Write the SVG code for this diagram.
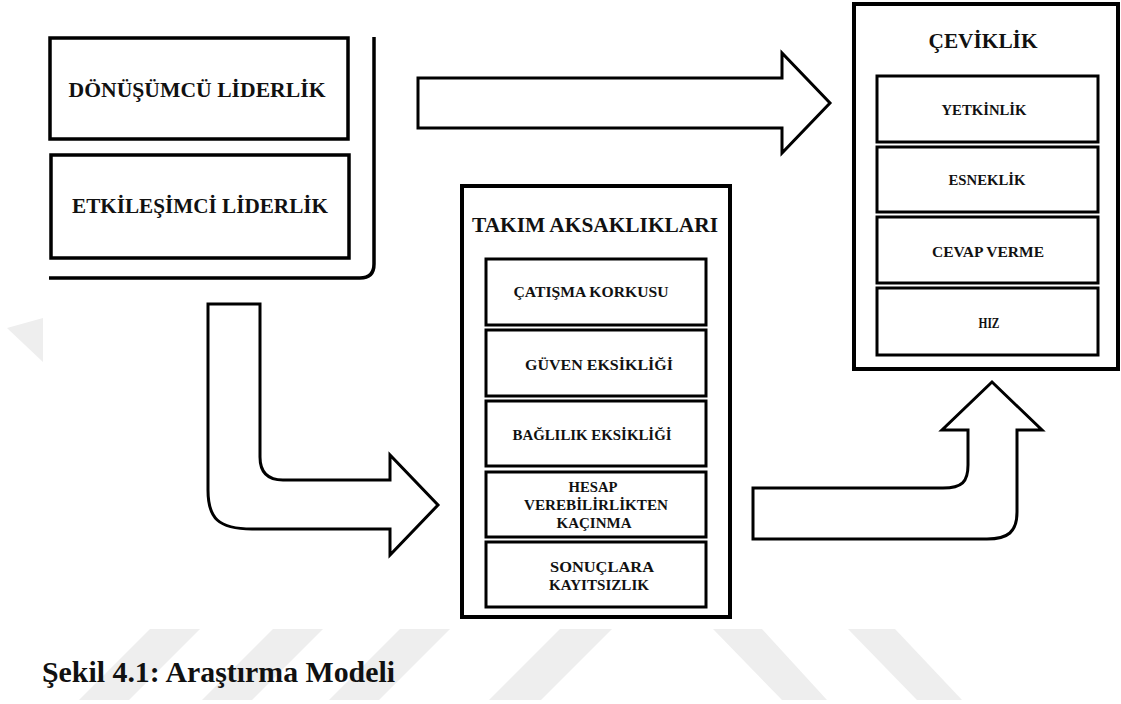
<svg xmlns="http://www.w3.org/2000/svg" width="1121" height="704" viewBox="0 0 1121 704">
<style>
.box{fill:#fff;stroke:#000;stroke-width:3.5}
.outer{fill:#fff;stroke:#000;stroke-width:4}
.inner{fill:#fff;stroke:#000;stroke-width:3}
.arrow{fill:#fff;stroke:#000;stroke-width:3;stroke-linejoin:miter}
.wm{fill:#eeeeee}
text{font-family:'Liberation Serif','Times New Roman',Times,'DejaVu Serif',serif;font-weight:bold;fill:#111;text-anchor:middle}
.t22{font-size:22px}
.t21{font-size:21px}
.t15{font-size:15px}
.cap{font-size:29px;text-anchor:start}
</style>
<rect width="1121" height="704" fill="#fff"/>
<g id="watermark">
<polygon class="wm" points="7,328 43,318 43,362"/>
<polygon class="wm" points="150,629 200,629 129,700 79,700"/>
<polygon class="wm" points="273,629 323,629 252,700 202,700"/>
<polygon class="wm" points="400,629 450,629 379,700 329,700"/>
<polygon class="wm" points="560,629 612,629 541,700 489,700"/>
<polygon class="wm" points="713,629 762,629 827,700 782,700"/>
<polygon class="wm" points="848,629 895,629 962,700 917,700"/>
</g>
<g id="connectors">
<path id="bracket" d="M374,37 L374,264 Q374,278 360,278 L49,278" fill="none" stroke="#000" stroke-width="3.5"/>
<polygon id="arrow-top" class="arrow" points="418,78 782,78 782,53 830,103 782,153 782,128 418,128"/>
<path id="arrow-bottom-left" class="arrow" d="M208,304 L260,304 L260,457 Q260,480 283,480 L390,480 L390,455 L438,505 L390,555 L390,529 L252,529 C218,529 208,518 208,490 Z"/>
<path id="arrow-bottom-right" class="arrow" d="M753,488 L943,488 C962,488 968,482 968,465 L968,430 L942,430 L992,382 L1042,430 L1017,430 L1017,512 C1017,532 1008,539 987,539 L753,539 Z"/>
</g>
<g id="node-donusumcu">
<rect class="box" x="50" y="38" width="298" height="101"/>
<text class="t22" x="197" y="97" textLength="257" lengthAdjust="spacingAndGlyphs">DÖNÜŞÜMCÜ LİDERLİK</text>
</g>
<g id="node-etkilesimci">
<rect class="box" x="51" y="155" width="298" height="103"/>
<text class="t22" x="200" y="213" textLength="256" lengthAdjust="spacingAndGlyphs">ETKİLEŞİMCİ LİDERLİK</text>
</g>
<g id="node-takim">
<rect class="outer" x="462" y="186" width="268" height="431"/>
<text class="t21" x="595" y="232" textLength="246" lengthAdjust="spacingAndGlyphs">TAKIM AKSAKLIKLARI</text>
<rect class="inner" x="486" y="259" width="220" height="66"/>
<text class="t15" x="591" y="297" textLength="155" lengthAdjust="spacingAndGlyphs">ÇATIŞMA KORKUSU</text>
<rect class="inner" x="486" y="330" width="220" height="66"/>
<text class="t15" x="599" y="370" textLength="148" lengthAdjust="spacingAndGlyphs">GÜVEN EKSİKLİĞİ</text>
<rect class="inner" x="486" y="401" width="220" height="65"/>
<text class="t15" x="592" y="440" textLength="159" lengthAdjust="spacingAndGlyphs">BAĞLILIK EKSİKLİĞİ</text>
<rect class="inner" x="486" y="472" width="220" height="65"/>
<text class="t15" x="593" y="492" textLength="49" lengthAdjust="spacingAndGlyphs">HESAP</text>
<text class="t15" x="596" y="510" textLength="144" lengthAdjust="spacingAndGlyphs">VEREBİLİRLİKTEN</text>
<text class="t15" x="594" y="528" textLength="75" lengthAdjust="spacingAndGlyphs">KAÇINMA</text>
<rect class="inner" x="486" y="542" width="220" height="65"/>
<text class="t15" x="602" y="572" textLength="104" lengthAdjust="spacingAndGlyphs">SONUÇLARA</text>
<text class="t15" x="599" y="590" textLength="100" lengthAdjust="spacingAndGlyphs">KAYITSIZLIK</text>
</g>
<g id="node-ceviklik">
<rect class="outer" x="854" y="4" width="264" height="365"/>
<text class="t21" x="983" y="48" textLength="109" lengthAdjust="spacingAndGlyphs">ÇEVİKLİK</text>
<rect class="inner" x="877" y="76" width="221" height="66"/>
<text class="t15" x="984" y="115" textLength="85" lengthAdjust="spacingAndGlyphs">YETKİNLİK</text>
<rect class="inner" x="877" y="147" width="221" height="65"/>
<text class="t15" x="987" y="185" textLength="77" lengthAdjust="spacingAndGlyphs">ESNEKLİK</text>
<rect class="inner" x="877" y="217" width="221" height="66"/>
<text class="t15" x="988" y="257" textLength="112" lengthAdjust="spacingAndGlyphs">CEVAP VERME</text>
<rect class="inner" x="877" y="288" width="221" height="67"/>
<text class="t15" x="989" y="328" textLength="21" lengthAdjust="spacingAndGlyphs">HIZ</text>
</g>
<text class="cap" x="42" y="682" textLength="353" lengthAdjust="spacingAndGlyphs">Şekil 4.1: Araştırma Modeli</text>
</svg>
